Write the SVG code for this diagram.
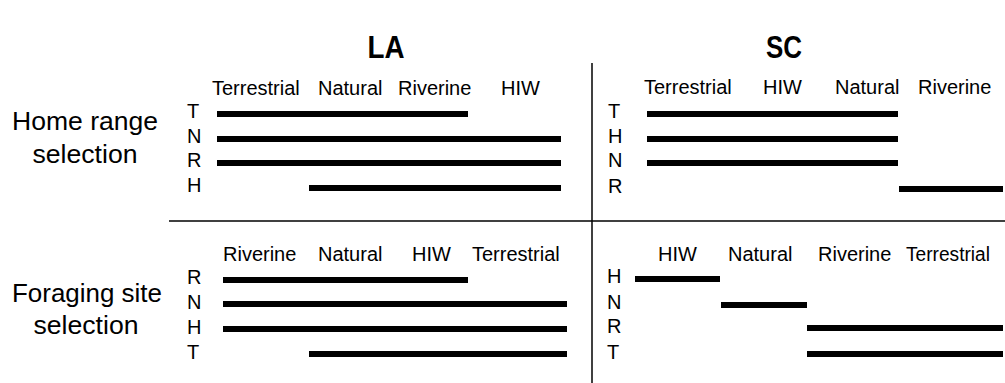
<svg xmlns="http://www.w3.org/2000/svg" width="1005" height="383" viewBox="0 0 1005 383">
<style>
text{font-family:"Liberation Sans",Arial,sans-serif;fill:#000}
.t{font-size:20px}
.r{font-size:20px}
.big{font-size:26px;text-anchor:middle}
.title{font-size:31px;font-weight:bold;text-anchor:middle}
.bar{stroke:#000;stroke-width:6;fill:none}
.div{stroke:#000;stroke-width:1.5;fill:none}
</style>
<rect width="1005" height="383" fill="#fff"/>
<g id="titles">
<text class="title" x="386" y="58" textLength="37" lengthAdjust="spacingAndGlyphs">LA</text>
<text class="title" x="784" y="58" textLength="36" lengthAdjust="spacingAndGlyphs">SC</text>
</g>
<g id="row-labels">
<text class="big" x="85" y="130" textLength="146" lengthAdjust="spacingAndGlyphs">Home range</text>
<text class="big" x="85" y="163" textLength="105" lengthAdjust="spacingAndGlyphs">selection</text>
<text class="big" x="87" y="302" textLength="150" lengthAdjust="spacingAndGlyphs">Foraging site</text>
<text class="big" x="86" y="334" textLength="105" lengthAdjust="spacingAndGlyphs">selection</text>
</g>
<g id="dividers">
<line class="div" x1="592" y1="63" x2="592" y2="383"/>
<line class="div" x1="169" y1="221" x2="1005" y2="221"/>
</g>
<g id="la-home">
<text class="t" x="212" y="95">Terrestrial</text>
<text class="t" x="318" y="95">Natural</text>
<text class="t" x="398" y="95">Riverine</text>
<text class="t" x="501" y="95">HIW</text>
<text class="r" x="187" y="118">T</text>
<text class="r" x="187" y="143">N</text>
<text class="r" x="187" y="167">R</text>
<text class="r" x="187" y="192">H</text>
<line class="bar" x1="217" y1="114" x2="468" y2="114"/>
<line class="bar" x1="217" y1="139" x2="561" y2="139"/>
<line class="bar" x1="217" y1="163" x2="561" y2="163"/>
<line class="bar" x1="309" y1="188" x2="561" y2="188"/>
</g>
<g id="sc-home">
<text class="t" x="644" y="94">Terrestrial</text>
<text class="t" x="763" y="94">HIW</text>
<text class="t" x="835" y="94">Natural</text>
<text class="t" x="918" y="94">Riverine</text>
<text class="r" x="608" y="118">T</text>
<text class="r" x="608" y="143">H</text>
<text class="r" x="608" y="167">N</text>
<text class="r" x="608" y="193">R</text>
<line class="bar" x1="647" y1="114" x2="898" y2="114"/>
<line class="bar" x1="647" y1="139" x2="898" y2="139"/>
<line class="bar" x1="647" y1="163" x2="898" y2="163"/>
<line class="bar" x1="899" y1="189" x2="1003" y2="189"/>
</g>
<g id="la-forage">
<text class="t" x="223" y="261">Riverine</text>
<text class="t" x="318" y="261">Natural</text>
<text class="t" x="412" y="261">HIW</text>
<text class="t" x="472" y="261">Terrestrial</text>
<text class="r" x="187" y="284">R</text>
<text class="r" x="187" y="309">N</text>
<text class="r" x="187" y="334">H</text>
<text class="r" x="187" y="359">T</text>
<line class="bar" x1="223" y1="280" x2="468" y2="280"/>
<line class="bar" x1="223" y1="304" x2="567" y2="304"/>
<line class="bar" x1="223" y1="329" x2="567" y2="329"/>
<line class="bar" x1="309" y1="354" x2="567" y2="354"/>
</g>
<g id="sc-forage">
<text class="t" x="658" y="261">HIW</text>
<text class="t" x="728" y="261">Natural</text>
<text class="t" x="818" y="261">Riverine</text>
<text class="t" x="906" y="261" textLength="84" lengthAdjust="spacingAndGlyphs">Terrestrial</text>
<text class="r" x="607" y="283">H</text>
<text class="r" x="607" y="309">N</text>
<text class="r" x="607" y="333">R</text>
<text class="r" x="607" y="359">T</text>
<line class="bar" x1="635" y1="279" x2="720" y2="279"/>
<line class="bar" x1="721" y1="305" x2="807" y2="305"/>
<line class="bar" x1="807" y1="328" x2="1003" y2="328"/>
<line class="bar" x1="807" y1="354" x2="1003" y2="354"/>
</g>
</svg>
